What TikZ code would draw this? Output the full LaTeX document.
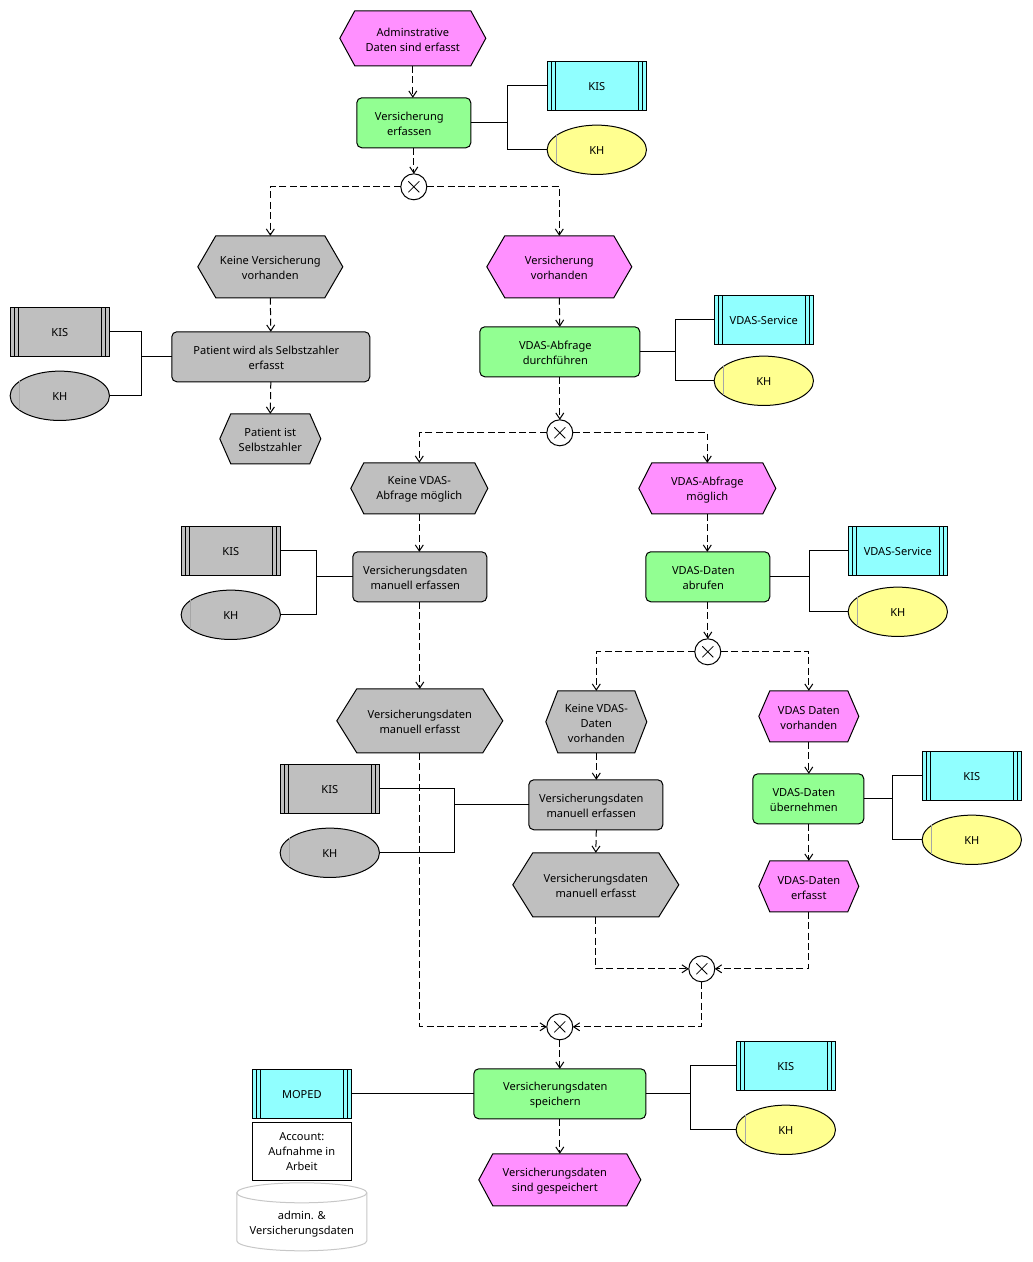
\documentclass[tikz,border=0pt]{standalone}
\usepackage{fontspec}
\setmainfont{Noto Sans}
\usetikzlibrary{arrows.meta,calc,shapes.geometric}
\definecolor{cmag}{HTML}{FF90FF}
\definecolor{cgrn}{HTML}{92FF92}
\definecolor{ccya}{HTML}{90FFFF}
\definecolor{cyel}{HTML}{FFFF90}
\definecolor{cgry}{HTML}{BFBFBF}
\tikzset{
  shapebase/.style={inner sep=0pt,outer sep=0pt},
  txt/.style={inner sep=0pt,align=center,font=\fontsize{8.3pt}{11.25pt}\selectfont,text=black},
  funcbox/.style={shapebase,draw=black,line width=0.75pt,rounded corners=3.75pt},
  sysbox/.style={shapebase,draw=black,line width=0.75pt},
  kh/.style={shapebase,ellipse,draw=black,line width=0.75pt},
  gatec/.style={shapebase,circle,draw=black,fill=white,line width=0.75pt,minimum size=19.5pt},
  flow/.style={draw=black,line width=0.75pt,dash pattern=on 5.2pt off 2.6pt,-{Straight Barb[length=4.5pt,width=6pt]}},
  assoc/.style={draw=black,line width=0.75pt},
}
% name x1 x2 y1 y2 inset colour dx text
\newcommand{\hexa}[9]{%
  \node[shapebase,minimum width={(#3-#2)*0.75pt},minimum height={(#5-#4)*0.75pt}] (#1) at ({(#2+#3)/2},{(#4+#5)/2}) {};
  \draw[fill=#7,line width=0.75pt] (#1.west) -- ($(#1.north west)+(#6,0)$) -- ($(#1.north east)+(-#6,0)$) -- (#1.east) -- ($(#1.south east)+(-#6,0)$) -- ($(#1.south west)+(#6,0)$) -- cycle;
  \node[txt] (#1-t) at ($(#1.center)+(#8,1.3)$) {#9};
}
% name x1 x2 y1 y2 colour text
\newcommand{\func}[7]{%
  \node[funcbox,fill=#6,minimum width={(#3-#2)*0.75pt},minimum height={(#5-#4)*0.75pt}] (#1) at ({(#2+#3)/2},{(#4+#5)/2}) {};
  \node[txt] (#1-t) at ($(#1.center)+(-4.5,1.3)$) {#7};
}
% name x1 y1 colour text
\newcommand{\sysn}[5]{%
  \node[sysbox,fill=#4,minimum width=74.5pt,minimum height=37pt] (#1) at ({#2+50},{#3+25}) {};
  \foreach \d in {4,8}{
    \draw[line width=0.75pt] ($(#1.north west)+(\d,0)$) -- ($(#1.south west)+(\d,0)$);
    \draw[line width=0.75pt] ($(#1.north east)+(-\d,0)$) -- ($(#1.south east)+(-\d,0)$);
  }
  \node[txt] (#1-t) at ($(#1.center)+(0,0.3)$) {#5};
}
\newcommand{\khn}[4]{%
  \node[kh,fill=#4,minimum width=74.5pt,minimum height=37pt] (#1) at ({#2+50},{#3+25}) {};
  \draw[black!35,line width=0.5pt] ($(#1.center)+(-40,-14.5)$) -- ($(#1.center)+(-40,14.5)$);
  \node[txt] (#1-t) at ($(#1.center)+(0,0.3)$) {KH};
}
\newcommand{\gate}[3]{%
  \node[gatec] (#1) at (#2,#3) {};
  \draw[line width=0.6pt] ($(#1.center)+(-5.5,-5.5)$) -- ($(#1.center)+(5.5,5.5)$);
  \draw[line width=0.6pt] ($(#1.center)+(-5.5,5.5)$) -- ($(#1.center)+(5.5,-5.5)$);
}
\begin{document}
\begin{tikzpicture}[x=0.75pt,y=-0.75pt]
\useasboundingbox[fill=white] (0.2,0.2) rectangle (1032.2,1262.2);
% events
\hexa{hA}{340}{486}{11}{66}{15}{cmag}{0}{Adminstrative\\Daten sind erfasst}
\hexa{hB}{198}{343}{236}{298}{18}{cgry}{0}{Keine Versicherung\\vorhanden}
\hexa{hC}{487}{632}{236}{298}{18}{cmag}{0}{Versicherung\\vorhanden}
\hexa{hD}{220}{321}{414}{464}{11}{cgry}{0}{Patient ist\\Selbstzahler}
\hexa{hE}{351}{488}{463}{514}{13}{cgry}{0}{Keine VDAS-\\Abfrage möglich}
\hexa{hF}{639}{776}{463}{514}{13}{cmag}{0}{VDAS-Abfrage\\möglich}
\hexa{hG}{337}{503}{689}{753}{20}{cgry}{0}{Versicherungsdaten\\manuell erfasst}
\hexa{hH}{546}{647}{691}{753}{12}{cgry}{0}{Keine VDAS-\\Daten\\vorhanden}
\hexa{hI}{759}{859}{691}{742}{11}{cmag}{0}{VDAS Daten\\vorhanden}
\hexa{hJ}{513}{679}{853}{917}{20}{cgry}{0}{Versicherungsdaten\\manuell erfasst}
\hexa{hK}{759}{859}{861}{912}{11}{cmag}{0}{VDAS-Daten\\erfasst}
\hexa{hL}{479}{641}{1154}{1206}{14}{cmag}{-5}{Versicherungsdaten\\sind gespeichert}
% functions
\func{fA}{357}{471}{98}{148}{cgrn}{Versicherung\\erfassen}
\func{fB}{172}{370}{332}{382}{cgry}{Patient wird als Selbstzahler\\erfasst}
\func{fC}{480}{640}{327}{377}{cgrn}{VDAS-Abfrage\\durchführen}
\func{fD}{353}{487}{552}{602}{cgry}{Versicherungsdaten\\manuell erfassen}
\func{fE}{646}{770}{552}{602}{cgrn}{VDAS-Daten\\abrufen}
\func{fF}{529}{663}{780}{830}{cgry}{Versicherungsdaten\\manuell erfassen}
\func{fG}{753}{864}{774}{824}{cgrn}{VDAS-Daten\\übernehmen}
\func{fH}{474}{646}{1069}{1119}{cgrn}{Versicherungsdaten\\speichern}
% systems
\sysn{sA}{547}{61}{ccya}{KIS}
\sysn{sB}{10}{307}{cgry}{KIS}
\sysn{sC}{714}{295}{ccya}{VDAS-Service}
\sysn{sD}{181}{526}{cgry}{KIS}
\sysn{sE}{848}{526}{ccya}{VDAS-Service}
\sysn{sF}{280}{764}{cgry}{KIS}
\sysn{sG}{922}{751}{ccya}{KIS}
\sysn{sH}{736}{1041}{ccya}{KIS}
\sysn{sI}{252}{1069}{ccya}{MOPED}
% org units
\khn{kA}{547}{125}{cyel}
\khn{kB}{10}{371}{cgry}
\khn{kC}{714}{356}{cyel}
\khn{kD}{181}{590}{cgry}
\khn{kE}{848}{587}{cyel}
\khn{kF}{280}{828}{cgry}
\khn{kG}{922}{815}{cyel}
\khn{kH}{736}{1105}{cyel}
% gates
\gate{gA}{414}{187}
\gate{gB}{560}{433}
\gate{gC}{708}{652}
\gate{gD}{702}{969}
\gate{gE}{560}{1027}
% account and data store
\node[sysbox,fill=white,minimum width=74.5pt,minimum height=43.5pt,txt,draw=black,line width=0.75pt] (acc) at (302,1152) {Account:\\Aufnahme in\\Arbeit};
\node[shapebase,minimum width=97.5pt,minimum height=51pt] (db) at (302,1217) {};
\draw[black!22,line width=0.75pt,fill=white] ($(db.north west)+(0,10)$) -- ($(db.south west)+(0,-10)$) arc[start angle=180,end angle=360,x radius=65,y radius=-10] -- ($(db.north east)+(0,10)$);
\draw[black!22,line width=0.75pt] ($(db.north)+(0,10)$) ellipse[x radius=65,y radius=10];
\node[txt] (db-t) at (302,1224.5) {admin. \&\\Versicherungsdaten};
% control flow
\draw[flow] (hA.south) -- (hA.south |- fA.north);
\draw[flow] (gA.north |- fA.south) -- (gA.north);
\draw[flow] (gA.west) -| (hB.north);
\draw[flow] (gA.east) -| (hC.north);
\draw[flow] (hB.south) -- (fB.north);
\draw[flow] (fB.south) -- (hD.north);
\draw[flow] (hC.south) -- (fC.north);
\draw[flow] (fC.south) -- (gB.north);
\draw[flow] (gB.west) -| (hE.north);
\draw[flow] (gB.east) -| (hF.north);
\draw[flow] (hE.south) -- (hE.south |- fD.north);
\draw[flow] (fD.south) -- (hG.north);
\draw[flow] (hF.south) -- (hF.south |- fE.north);
\draw[flow] (fE.south) -- (gC.north);
\draw[flow] (gC.west) -| (hH.north);
\draw[flow] (gC.east) -| (hI.north);
\draw[flow] (hH.south) -- (hH.south |- fF.north);
\draw[flow] (hH.south |- fF.south) -- (hJ.north);
\draw[flow] (hI.south) -- (hI.south |- fG.north);
\draw[flow] (hI.south |- fG.south) -- (hK.north);
\draw[flow] (hJ.south) |- (gD.west);
\draw[flow] (hK.south) |- (gD.east);
\draw[flow] (hG.south) |- (gE.west);
\draw[flow] (gD.south) |- (gE.east);
\draw[flow] (gE.south) -- (gE.south |- fH.north);
\draw[flow] (gE.south |- fH.south) -- (hL.north);
% associations
\coordinate (jA) at (508,123);
\draw[assoc] (fA.east) -- (jA) (sA.west) -| (jA) (kA.west) -| (jA);
\coordinate (jB) at (142,357);
\draw[assoc] (fB.west) -- (jB) (sB.east) -| (jB) (kB.east) -| (jB);
\coordinate (jC) at (676,352);
\draw[assoc] (fC.east) -- (jC) (sC.west) -| (jC) (kC.west) -| (jC);
\coordinate (jD) at (317,577);
\draw[assoc] (fD.west) -- (jD) (sD.east) -| (jD) (kD.east) -| (jD);
\coordinate (jE) at (810,577);
\draw[assoc] (fE.east) -- (jE) (sE.west) -| (jE) (kE.west) -| (jE);
\coordinate (jF) at (455,805);
\draw[assoc] (fF.west) -- (jF) (sF.east) -| (jF) (kF.east) -| (jF);
\coordinate (jG) at (893,799);
\draw[assoc] (fG.east) -- (jG) (sG.west) -| (jG) (kG.west) -| (jG);
\coordinate (jH) at (691,1094);
\draw[assoc] (fH.east) -- (jH) (sH.west) -| (jH) (kH.west) -| (jH);
\draw[assoc] (sI.east) -- (fH.west);
\end{tikzpicture}
\end{document}
